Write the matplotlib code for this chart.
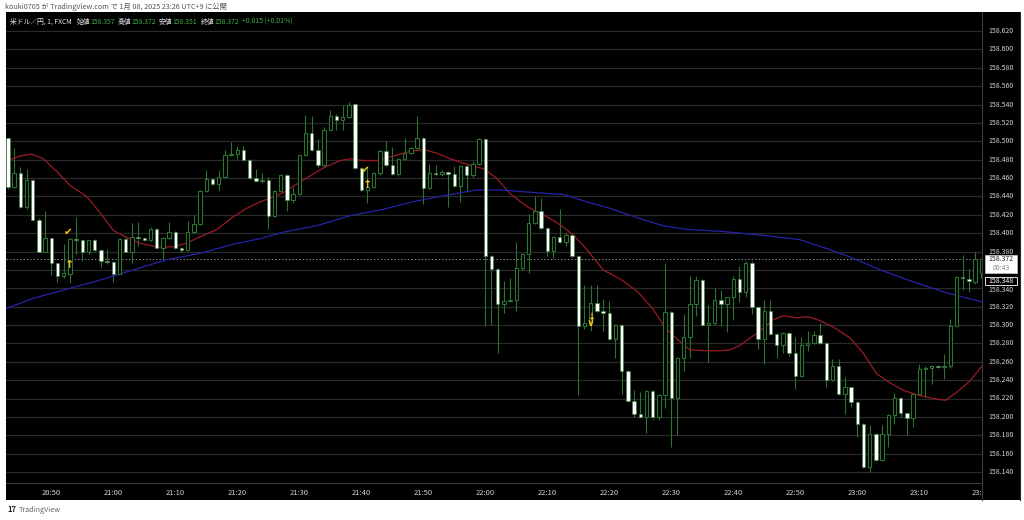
import numpy as np
import matplotlib.pyplot as plt
from matplotlib.patches import Rectangle

plt.rcParams['font.family'] = ['Noto Sans CJK JP', 'DejaVu Sans']

# 1分足 20:43 .. 23:20 (index 0 = 20:43)
opens = [158.504, 158.450, 158.465, 158.428, 158.458, 158.414, 158.380, 158.395, 158.367, 158.353,
         158.356, 158.394, 158.392, 158.380, 158.393, 158.382, 158.370, 158.369, 158.356, 158.394,
         158.380, 158.396, 158.395, 158.393, 158.405, 158.384, 158.395, 158.401, 158.384, 158.382,
         158.401, 158.410, 158.446, 158.459, 158.453, 158.461, 158.485, 158.486, 158.491, 158.480,
         158.460, 158.457, 158.458, 158.419, 158.446, 158.463, 158.436, 158.443, 158.485, 158.509,
         158.490, 158.474, 158.512, 158.528, 158.523, 158.526, 158.540, 158.471, 158.447, 158.450,
         158.465, 158.489, 158.474, 158.464, 158.481, 158.487, 158.493, 158.504, 158.449, 158.465,
         158.464, 158.467, 158.464, 158.451, 158.473, 158.463, 158.475, 158.502, 158.375, 158.361,
         158.323, 158.326, 158.327, 158.362, 158.377, 158.411, 158.424, 158.406, 158.381, 158.396,
         158.390, 158.398, 158.375, 158.299, 158.302, 158.324, 158.315, 158.313, 158.285, 158.300,
         158.250, 158.217, 158.203, 158.200, 158.228, 158.200, 158.224, 158.314, 158.221, 158.264,
         158.287, 158.323, 158.349, 158.300, 158.302, 158.327, 158.323, 158.330, 158.350, 158.336,
         158.368, 158.320, 158.285, 158.315, 158.290, 158.278, 158.291, 158.269, 158.244, 158.278,
         158.280, 158.289, 158.280, 158.240, 158.255, 158.225, 158.232, 158.216, 158.192, 158.145,
         158.181, 158.153, 158.181, 158.202, 158.221, 158.204, 158.199, 158.225, 158.252, 158.253,
         158.255, 158.254, 158.255, 158.299, 158.352, 158.350, 158.347, 158.357]
highs = [158.505, 158.493, 158.472, 158.470, 158.459, 158.417, 158.424, 158.396, 158.368, 158.388,
         158.395, 158.418, 158.393, 158.393, 158.394, 158.383, 158.383, 158.370, 158.395, 158.396,
         158.411, 158.412, 158.396, 158.407, 158.406, 158.396, 158.412, 158.402, 158.385, 158.413,
         158.420, 158.447, 158.469, 158.460, 158.469, 158.491, 158.499, 158.495, 158.495, 158.481,
         158.470, 158.465, 158.461, 158.447, 158.464, 158.464, 158.450, 158.485, 158.529, 158.528,
         158.502, 158.516, 158.534, 158.530, 158.540, 158.543, 158.541, 158.472, 158.473, 158.466,
         158.490, 158.500, 158.494, 158.482, 158.503, 158.494, 158.528, 158.505, 158.475, 158.474,
         158.469, 158.468, 158.473, 158.474, 158.474, 158.478, 158.503, 158.503, 158.376, 158.362,
         158.348, 158.351, 158.390, 158.378, 158.421, 158.440, 158.438, 158.407, 158.397, 158.426,
         158.400, 158.399, 158.376, 158.343, 158.344, 158.344, 158.328, 158.326, 158.301, 158.301,
         158.251, 158.229, 158.227, 158.229, 158.229, 158.225, 158.367, 158.315, 158.265, 158.312,
         158.353, 158.353, 158.350, 158.322, 158.340, 158.338, 158.331, 158.353, 158.364, 158.370,
         158.370, 158.321, 158.327, 158.327, 158.291, 158.292, 158.292, 158.287, 158.287, 158.293,
         158.294, 158.302, 158.281, 158.263, 158.263, 158.243, 158.233, 158.217, 158.193, 158.191,
         158.182, 158.191, 158.203, 158.226, 158.222, 158.205, 158.226, 158.258, 158.255, 158.256,
         158.256, 158.268, 158.307, 158.353, 158.376, 158.361, 158.379, 158.372]
lows = [158.448, 158.449, 158.427, 158.426, 158.413, 158.379, 158.379, 158.354, 158.347, 158.351,
        158.346, 158.377, 158.370, 158.377, 158.381, 158.363, 158.366, 158.347, 158.355, 158.379,
        158.368, 158.386, 158.391, 158.391, 158.383, 158.370, 158.394, 158.383, 158.380, 158.381,
        158.400, 158.409, 158.445, 158.452, 158.446, 158.460, 158.484, 158.481, 158.479, 158.459,
        158.456, 158.455, 158.405, 158.418, 158.445, 158.424, 158.433, 158.442, 158.484, 158.489,
        158.472, 158.472, 158.512, 158.512, 158.512, 158.525, 158.470, 158.446, 158.433, 158.449,
        158.463, 158.473, 158.463, 158.462, 158.480, 158.486, 158.492, 158.432, 158.448, 158.462,
        158.462, 158.428, 158.450, 158.434, 158.445, 158.461, 158.474, 158.299, 158.300, 158.270,
        158.313, 158.325, 158.315, 158.360, 158.357, 158.410, 158.405, 158.375, 158.373, 158.389,
        158.386, 158.374, 158.224, 158.296, 158.293, 158.314, 158.293, 158.284, 158.264, 158.225,
        158.216, 158.200, 158.199, 158.182, 158.198, 158.197, 158.210, 158.167, 158.180, 158.250,
        158.264, 158.310, 158.299, 158.260, 158.300, 158.299, 158.292, 158.305, 158.325, 158.330,
        158.312, 158.274, 158.258, 158.289, 158.264, 158.269, 158.266, 158.230, 158.243, 158.272,
        158.279, 158.279, 158.233, 158.239, 158.224, 158.203, 158.211, 158.178, 158.144, 158.140,
        158.152, 158.152, 158.167, 158.192, 158.200, 158.180, 158.189, 158.224, 158.221, 158.236,
        158.253, 158.241, 158.253, 158.299, 158.338, 158.336, 158.345, 158.351]
closes = [158.450, 158.465, 158.428, 158.458, 158.414, 158.380, 158.395, 158.367, 158.353, 158.357,
          158.394, 158.392, 158.380, 158.393, 158.382, 158.370, 158.369, 158.356, 158.394, 158.380,
          158.396, 158.395, 158.393, 158.405, 158.384, 158.395, 158.401, 158.384, 158.382, 158.401,
          158.410, 158.446, 158.459, 158.453, 158.461, 158.485, 158.486, 158.491, 158.480, 158.460,
          158.457, 158.458, 158.419, 158.446, 158.463, 158.436, 158.443, 158.485, 158.509, 158.490,
          158.474, 158.512, 158.528, 158.523, 158.526, 158.540, 158.471, 158.447, 158.450, 158.465,
          158.489, 158.474, 158.464, 158.481, 158.487, 158.493, 158.504, 158.449, 158.465, 158.464,
          158.467, 158.464, 158.451, 158.473, 158.463, 158.475, 158.502, 158.375, 158.361, 158.323,
          158.326, 158.327, 158.362, 158.377, 158.411, 158.424, 158.406, 158.381, 158.396, 158.390,
          158.398, 158.375, 158.299, 158.302, 158.324, 158.315, 158.313, 158.285, 158.300, 158.250,
          158.217, 158.203, 158.200, 158.228, 158.200, 158.224, 158.314, 158.221, 158.264, 158.287,
          158.323, 158.349, 158.300, 158.302, 158.327, 158.323, 158.330, 158.350, 158.336, 158.368,
          158.320, 158.285, 158.315, 158.290, 158.278, 158.291, 158.269, 158.244, 158.278, 158.280,
          158.289, 158.280, 158.240, 158.255, 158.225, 158.232, 158.216, 158.192, 158.145, 158.181,
          158.153, 158.181, 158.202, 158.221, 158.204, 158.199, 158.225, 158.252, 158.253, 158.255,
          158.254, 158.255, 158.299, 158.352, 158.351, 158.348, 158.372, 158.372]

# 移動平均線
red_idx = [0.3, 2.0, 3.8, 5.7, 7.9, 10.0, 12.7, 14.9, 17.0, 18.9, 21.3, 24.0, 26.7, 28.8, 31.0,
           33.7, 36.4, 38.5, 40.7, 44.4, 47.7, 50.9, 53.6, 55.2, 57.3, 59.5, 62.2, 64.9, 67.0,
           69.2, 71.3, 74.0, 76.7, 78.8, 81.0, 83.7, 86.9, 89.1, 91.2, 93.4, 96.0, 99.0, 101.6,
           104.1, 106.0, 108.4, 110.0, 112.4, 114.9, 116.5, 118.1, 120.8, 123.5, 125.1, 127.2,
           129.1, 130.5, 133.1, 135.8, 138.0, 140.1, 142.3, 144.4, 146.6, 149.3, 151.2, 152.9,
           155.0, 156.6, 157.2]
red_val = [158.480, 158.484, 158.486, 158.481, 158.467, 158.452, 158.440, 158.422, 158.403, 158.396,
           158.389, 158.385, 158.385, 158.389, 158.396, 158.404, 158.418, 158.427, 158.434, 158.444,
           158.458, 158.471, 158.479, 158.481, 158.479, 158.479, 158.484, 158.489, 158.491, 158.487,
           158.481, 158.475, 158.470, 158.460, 158.443, 158.429, 158.418, 158.409, 158.398, 158.382,
           158.360, 158.349, 158.336, 158.317, 158.297, 158.282, 158.273, 158.272, 158.272, 158.273,
           158.278, 158.291, 158.306, 158.310, 158.308, 158.309, 158.306, 158.298, 158.286, 158.269,
           158.247, 158.237, 158.229, 158.224, 158.220, 158.218, 158.226, 158.238, 158.251, 158.256]
blue_idx = [-0.3, 4.1, 9.5, 14.9, 20.2, 25.6, 31.0, 36.4, 40.7, 44.4, 49.8, 55.2, 60.6, 65.9, 71.3,
            75.6, 79.4, 85.3, 89.6, 93.4, 97.1, 101.4, 105.7, 109.5, 114.9, 121.3, 127.7, 132.6,
            135.8, 140.7, 146.0, 151.4, 157.2]
blue_val = [158.318, 158.329, 158.339, 158.349, 158.360, 158.371, 158.378, 158.388, 158.394, 158.401,
            158.408, 158.419, 158.426, 158.435, 158.442, 158.447, 158.447, 158.444, 158.442, 158.434,
            158.427, 158.417, 158.408, 158.404, 158.402, 158.398, 158.393, 158.382, 158.374, 158.360,
            158.347, 158.335, 158.325]

# サイン
check_idx = [10, 58]
check_val = [158.4015, 158.4685]
up_idx = [10, 58]
up_val = [158.3655, 158.4525]
down_idx = [94]
down_val = [158.3055]

time_idx = [7, 17, 27, 37, 47, 57, 67, 77, 87, 97, 107, 117, 127, 137, 147, 157]
time_labels = ['20:50', '21:00', '21:10', '21:20', '21:30', '21:40', '21:50', '22:00',
               '22:10', '22:20', '22:30', '22:40', '22:50', '23:00', '23:10', '23:20']
price_ticks = np.round(np.arange(158.14, 158.6201, 0.02), 3)
other_price = 158.348

W, H = 1024, 520
GREEN = '#2b7330'
YELLOW = '#f5c518'


def box(x0, y0, x1, y1):
    return [x0 / W, 1 - y1 / H, (x1 - x0) / W, (y1 - y0) / H]


def price_at(y):
    return 158.620 - (y - 31) / 918.75


def idx_at(x):
    return (x - 7.9) / 6.2


def ftext(x, y, s, **kw):
    return fig.text(x / W, 1 - y / H, s, va='center', ha='left', **kw)


fig = plt.figure(figsize=(W / 100, H / 100), dpi=100, facecolor='white')
fig.add_artist(Rectangle((6 / W, 1 - 500 / H), 1014 / W, 488 / H,
                         transform=fig.transFigure, facecolor='black', edgecolor='none', zorder=-5))

ax = fig.add_axes(box(6, 12, 982, 483))
ax.set_facecolor('black')
ax.set_xlim(idx_at(6), idx_at(982))
ax.set_ylim(price_at(483), price_at(12))

o, h, l, c = map(np.array, (opens, highs, lows, closes))
idx = np.arange(len(o))
up = c >= o
body = np.maximum(np.abs(c - o), 0.0008)

ax.vlines(idx, l, h, color=GREEN, lw=0.8, zorder=2)
ax.plot(red_idx, red_val, color='#9a1b25', lw=0.9, zorder=2.5)
ax.plot(blue_idx, blue_val, color='#2424a8', lw=0.9, zorder=2.5)
ax.bar(idx[up], body[up], bottom=o[up], width=0.56, facecolor='black',
       edgecolor=GREEN, lw=0.8, zorder=3)
ax.bar(idx[~up], body[~up], bottom=c[~up], width=0.56, facecolor='white',
       edgecolor='#3d7d40', lw=0.5, zorder=3)

ax.axhline(c[-1], color='#8a8a8a', lw=0.7, ls=(0, (1.5, 2)), zorder=1.5)

for xi, yv in zip(check_idx, check_val):
    ax.text(xi - 0.3, yv, '✔', color=YELLOW, fontsize=7.5, ha='center', va='center',
            family=['DejaVu Sans'], zorder=5)
for xi, yv in zip(up_idx, up_val):
    ax.text(xi, yv, '↑', color=YELLOW, fontsize=8, fontweight='bold', ha='center', va='center',
            family=['DejaVu Sans'], zorder=5)
for xi, yv in zip(down_idx, down_val):
    ax.text(xi, yv, '↓\n∨', color=YELLOW, fontsize=7, fontweight='bold', ha='center',
            va='center', linespacing=0.45, family=['DejaVu Sans'], zorder=5)

ax.set_yticks(price_ticks)
ax.grid(axis='y', color='#2a2a2a', lw=0.9, zorder=0)
ax.set_xticks(time_idx, time_labels)
ax.tick_params(axis='y', length=0, labelleft=False)
ax.tick_params(axis='x', length=0, pad=4.5, labelsize=5.5, labelcolor='#cfcfcf')
for s in ('top', 'right', 'left'):
    ax.spines[s].set_visible(False)
ax.spines['bottom'].set_color('#3c3c3c')

# 価格軸
last = c[-1]
box_top, box_bot = last + 0.004, last - 0.0155
pax = fig.add_axes(box(982, 12, 1020, 500))
pax.set_facecolor('black')
pax.set_xlim(0, 1)
pax.set_ylim(price_at(500), price_at(12))
pax.set_xticks([])
pax.set_yticks([])
for s in ('top', 'bottom'):
    pax.spines[s].set_visible(False)
pax.spines['left'].set_color('#3c3c3c')
pax.spines['right'].set_color('#2a2a2a')
yt = pax.get_yaxis_transform()
for p in price_ticks:
    if box_bot - 0.002 < p < box_top:
        continue
    pax.text(0.5, p - (0.0015 if abs(p - other_price) < 0.01 else 0), f'{p:.3f}',
             transform=yt, ha='center', va='center', fontsize=5, color='#d4d4d4')
pax.add_patch(Rectangle((0.08, box_bot), 0.84, box_top - box_bot, transform=yt,
                        facecolor='white', edgecolor='#bbbbbb', lw=0.6, zorder=4))
pax.text(0.5, last - 0.0005, f'{last:.3f}', transform=yt, ha='center', va='center',
         fontsize=5, color='#222222', zorder=5)
pax.text(0.5, last - 0.0095, '00:43', transform=yt, ha='center', va='center',
         fontsize=5, color='#888888', zorder=5)
pax.add_patch(Rectangle((0.08, other_price - 0.0045), 0.84, 0.009, transform=yt,
                        facecolor='black', edgecolor='#dddddd', lw=0.7, zorder=4))
pax.text(0.5, other_price, f'{other_price:.3f}', transform=yt, ha='center', va='center',
         fontsize=5, color='white', zorder=5)

# テキスト
ftext(5, 7, 'kouki0705 が TradingView.com で 1月 08, 2025 23:26 UTC+9 に公開',
      fontsize=5.2, color='#555555')
chg = closes[-1] - opens[-1]
WHITE_T, GREEN_T = '#e6e6e6', '#45b04a'
parts = [('米ドル／円, 1, FXCM', WHITE_T, 4.5),
         ('始値', WHITE_T, 0.3), (f'{opens[-1]:.3f}', GREEN_T, 3),
         ('高値', WHITE_T, 0.3), (f'{highs[-1]:.3f}', GREEN_T, 3),
         ('安値', WHITE_T, 0.3), (f'{lows[-1]:.3f}', GREEN_T, 3),
         ('終値', WHITE_T, 0.3), (f'{closes[-1]:.3f}', GREEN_T, 3),
         (f'+{chg:.3f} (+{chg / opens[-1] * 100:.2f}%)', GREEN_T, 0)]
renderer = fig.canvas.get_renderer()
xpos = 10
for s, col, gap in parts:
    t = ftext(xpos, 22, s, fontsize=4.9, color=col)
    xpos += t.get_window_extent(renderer).width + gap
ftext(7, 510, '17', fontsize=5.5, fontweight='bold', color='#222222')
ftext(19, 510, 'TradingView', fontsize=5.2, color='#666666')

fig.savefig('out.png', dpi=100, facecolor='white')
